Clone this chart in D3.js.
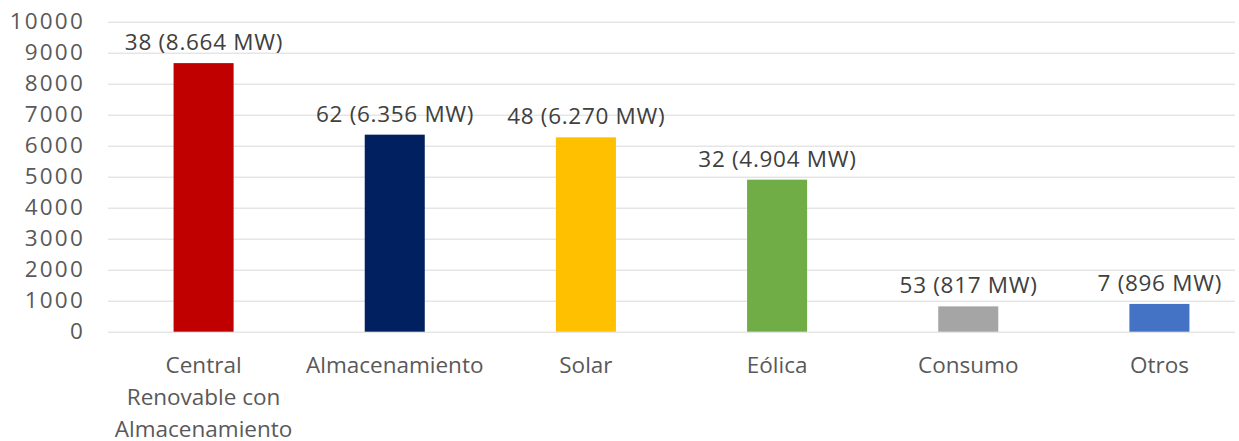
<!DOCTYPE html>
<html>
<head>
<meta charset="utf-8">
<script src="https://cdn.jsdelivr.net/npm/d3@7"></script>
<style>
  html, body { margin: 0; padding: 0; background: #fff; }
  svg { display: block; font-family: "Open Sans", sans-serif; }
</style>
</head>
<body>
<svg id="chart" width="1239" height="441"></svg>
<script>
// Capacity (MW) and number of projects per technology
const categories = ["Central Renovable con Almacenamiento", "Almacenamiento", "Solar", "Eólica", "Consumo", "Otros"];
const categoryLines = [["Central", "Renovable con", "Almacenamiento"], ["Almacenamiento"], ["Solar"], ["Eólica"], ["Consumo"], ["Otros"]];
const capacityMW = [8664, 6356, 6270, 4904, 817, 896];
const projectCounts = [38, 62, 48, 32, 53, 7];
const capacityLabels = ["8.664", "6.356", "6.270", "4.904", "817", "896"];
const barColors = ["#C00000", "#002060", "#FFC000", "#70AD47", "#A5A5A5", "#4472C4"];
const yTicks = [0, 1000, 2000, 3000, 4000, 5000, 6000, 7000, 8000, 9000, 10000];

const svg = d3.select("#chart");
const plotLeft = 108, plotRight = 1255, plotTop = 21.7, plotBottom = 331.7;
const textColor = "#595959";
const fontSize = 22.5;

const x = d3.scaleBand()
  .domain(categories)
  .range([plotLeft, plotRight])
  .paddingInner(0.686)
  .paddingOuter(0.343);

const y = d3.scaleLinear().domain([0, 10000]).range([plotBottom, plotTop]);

// Horizontal gridlines with tick labels
const yAxis = d3.axisLeft(y)
  .tickValues(yTicks)
  .tickSize(-(1235 - plotLeft))
  .tickPadding(23)
  .tickFormat(d3.format("d"));

const gy = svg.append("g")
  .attr("transform", `translate(${plotLeft},0)`)
  .call(yAxis);
gy.select(".domain").remove();
gy.selectAll(".tick line").attr("stroke", "#d9d9d9").attr("stroke-width", 1);
gy.selectAll(".tick text")
  .attr("fill", textColor)
  .attr("font-size", fontSize)
  .attr("letter-spacing", 2.2)
  .attr("font-family", "'Open Sans', sans-serif");

// Bars
const barW = x.bandwidth();
svg.append("g").selectAll("rect")
  .data(categories)
  .join("rect")
  .attr("x", d => x(d))
  .attr("y", (d, i) => y(capacityMW[i]))
  .attr("width", barW)
  .attr("height", (d, i) => y(0) - y(capacityMW[i]))
  .attr("fill", (d, i) => barColors[i]);

// Value labels above bars
svg.append("g").selectAll("text")
  .data(categories)
  .join("text")
  .attr("x", d => x(d) + barW / 2 + 0.35)
  .attr("y", (d, i) => y(capacityMW[i]) - 13)
  .attr("text-anchor", "middle")
  .attr("fill", "#404040")
  .attr("font-size", fontSize)
  .attr("letter-spacing", 0.7)
  .text((d, i) => `${projectCounts[i]} (${capacityLabels[i]} MW)`);

// Category labels (wrapped)
const cat = svg.append("g").selectAll("text")
  .data(categories)
  .join("text")
  .attr("x", d => x(d) + barW / 2)
  .attr("y", 373)
  .attr("text-anchor", "middle")
  .attr("fill", textColor)
  .attr("font-size", fontSize);
cat.each(function(d, i) {
  const t = d3.select(this);
  categoryLines[i].forEach((line, k) => {
    t.append("tspan")
      .attr("x", x(d) + barW / 2)
      .attr("dy", k === 0 ? 0 : 32)
      .text(line);
  });
});
</script>
</body>
</html>
